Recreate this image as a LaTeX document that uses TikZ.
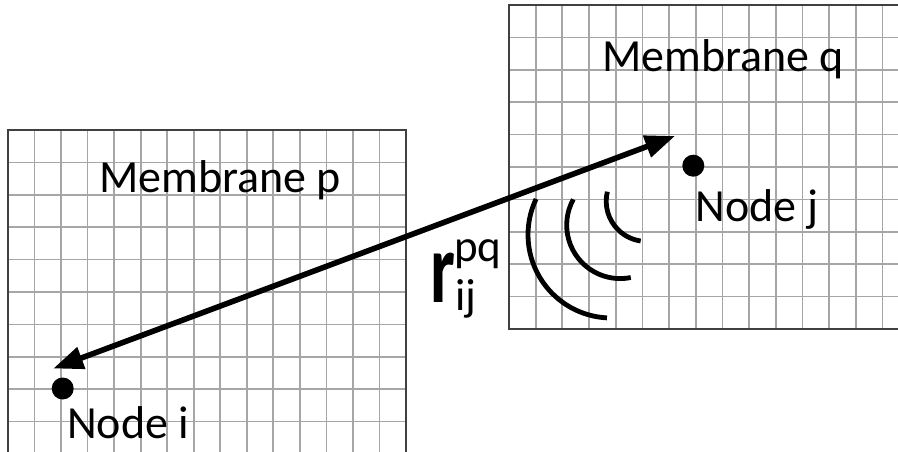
\documentclass[tikz,border=0pt]{standalone}
\usepackage{fontspec}
\usepackage{graphicx}
\setmainfont{Carlito}
\usetikzlibrary{arrows.meta}
\begin{document}
\begin{tikzpicture}[x=1pt,y=-1pt,
  gridline/.style={draw=black!35, line width=1.7pt},
  frame/.style={draw=black!75, line width=1.3pt},
  lbl/.style={inner sep=0pt, anchor=base west, font=\fontsize{46}{50}\selectfont},
  scriptlbl/.style={inner sep=0pt, anchor=base west, font=\fontsize{45}{48}\selectfont},
  dot/.style={circle, fill=black, inner sep=0pt, minimum size=22pt},
  wave/.style={draw=black, line width=4.8pt},
  link/.style={line width=5.6pt, {Triangle[length=30pt,width=22pt]}-{Triangle[length=30pt,width=22pt]}}
]
\useasboundingbox (0,0) rectangle (898,452);
% left membrane grid
\foreach \i in {1,...,14} \draw[gridline] ({8+26.53*\i},130) -- ({8+26.53*\i},452);
\foreach \j in {1,...,9} \draw[gridline] (8,{130+32.4*\j}) -- (406,{130+32.4*\j});
\draw[frame] (8,452) -- (8,130) -- (406,130) -- (406,452);
% right membrane grid
\foreach \i in {1,...,14} \draw[gridline] ({509+26.67*\i},5) -- ({509+26.67*\i},329);
\foreach \j in {1,...,9} \draw[gridline] (509,{5+32.4*\j}) -- (898,{5+32.4*\j});
\draw[frame] (898,5) -- (509,5) -- (509,329) -- (898,329);
% nodes
\node[dot] (ni) at (62.7,388.5) {};
\node[dot] (nj) at (693.3,165.7) {};
% arrow
\coordinate (ti) at (53.3,368.5);
\coordinate (tj) at (675,136);
\draw[link] (ti) -- (tj);
% waves
\draw[wave] ([shift={(205.4:83.3)}]611.3,234.7) arc[start angle=205.4, end angle=93, radius=83.3];
\draw[wave] ([shift={(208.8:53.5)}]620.2,225.1) arc[start angle=208.8, end angle=78.6, radius=53.5];
\draw[wave] ([shift={(193.7:40.2)}]646.4,201.2) arc[start angle=193.7, end angle=98.2, radius=40.2];
% labels
\node[lbl] (mp) at (99,192) {Membrane p};
\node[lbl] (mq) at (602,72) {Membrane q};
\node[lbl] (lj) at (695.5,221) {Node j};
\node[lbl] (li) at (67,438) {Node i};
\node[inner sep=0pt, anchor=base west, font=\fontsize{100}{100}\selectfont\bfseries] (r) at (430,302) {\scalebox{0.7}[1]{r}};
\node[scriptlbl] (sup) at (454,261) {pq};
\node[scriptlbl] (sub) at (455,310) {ij};
\end{tikzpicture}
\end{document}
